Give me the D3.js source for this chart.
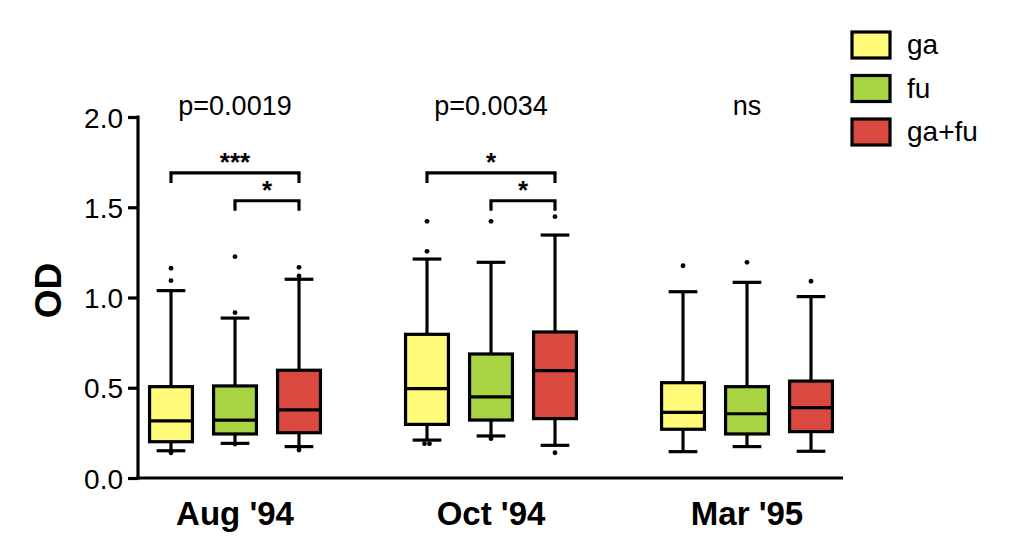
<!DOCTYPE html>
<html>
<head>
<meta charset="utf-8">
<script src="https://cdn.jsdelivr.net/npm/d3@7"></script>
<style>
  html, body { margin: 0; padding: 0; background: #fff; }
  svg { display: block; }
  text { font-family: "Liberation Sans", Arial, Helvetica, sans-serif; fill: #000; }
</style>
</head>
<body>
<svg id="chart" width="1009" height="559"></svg>
<script>
// ---------- data ----------
const groups = ["Aug '94", "Oct '94", "Mar '95"];
const series = ["ga", "fu", "ga+fu"];
const seriesColors = ["#fffa78", "#a8d444", "#d9493f"];
const yTicks = [0.0, 0.5, 1.0, 1.5, 2.0];

// box statistics: [whiskerLow, q1, median, q3, whiskerHigh], per group, per series
const boxStatsAug = [
  [0.151, 0.201, 0.316, 0.506, 1.038],
  [0.192, 0.244, 0.321, 0.510, 0.886],
  [0.174, 0.251, 0.377, 0.597, 1.101]
];
const boxStatsOct = [
  [0.210, 0.297, 0.495, 0.796, 1.213],
  [0.233, 0.321, 0.449, 0.687, 1.195],
  [0.181, 0.329, 0.595, 0.809, 1.346]
];
const boxStatsMar = [
  [0.146, 0.270, 0.364, 0.528, 1.032],
  [0.174, 0.244, 0.356, 0.506, 1.084],
  [0.148, 0.257, 0.390, 0.537, 1.005]
];
// outliers
const outliersAug = [[1.162, 1.093, 0.140], [1.226, 0.916, 0.188], [1.167, 1.119, 0.155]];
const outliersOct = [[1.422, 1.256, 0.190, 0.190], [1.422, 0.218], [1.448, 0.140]];
const outliersMar = [[1.176], [1.195], [1.090]];

const pLabels = ["p=0.0019", "p=0.0034", "ns"];
// significance brackets: group index, from series, to series, y level, label
const bracketGroup = [0, 0, 1, 1];
const bracketFrom  = [0, 1, 0, 1];
const bracketTo    = [2, 2, 2, 2];
const bracketLevel = [1.69, 1.536, 1.69, 1.536];
const bracketLabel = ["***", "*", "*", "*"];

const yLabel = "OD";

// ---------- layout ----------
const svg = d3.select("#chart");
const x0 = d3.scaleBand().domain(groups).range([139, 843]).paddingInner(0.25).paddingOuter(0);
const x1 = d3.scaleBand().domain(series).range([0, x0.bandwidth()]).paddingInner(0.33).paddingOuter(0.165);
const y = d3.scaleLinear().domain([0, 2]).range([478, 117]);
const color = d3.scaleOrdinal().domain(series).range(seriesColors);

const stats = [boxStatsAug, boxStatsOct, boxStatsMar];
const outs = [outliersAug, outliersOct, outliersMar];
const lw = 3.2;

// Y axis
const yAxis = svg.append("g").attr("transform", `translate(${x0.range()[0] - 1},0)`)
  .call(d3.axisLeft(y).tickValues(yTicks).tickFormat(d3.format(".1f")).tickSizeOuter(0).tickSize(10).tickPadding(5));
yAxis.select(".domain").attr("stroke", "#000").attr("stroke-width", lw).attr("d", `M0,${y(2)-1.5}V${y(0)+1.5}`);
yAxis.selectAll(".tick line").attr("stroke", "#000").attr("stroke-width", lw);
yAxis.selectAll(".tick text").attr("font-size", 28).attr("font-family", "Liberation Sans, Arial, sans-serif").attr("dy", "0.36em");

// X axis
const xAxis = svg.append("g").attr("transform", `translate(0,${y(0)})`)
  .call(d3.axisBottom(x0).tickSize(0).tickPadding(24));
xAxis.select(".domain").attr("stroke", "#000").attr("stroke-width", lw).attr("d", `M${x0.range()[0]-2.5},0H${x0.range()[1]}`);
xAxis.selectAll(".tick text").attr("font-size", 33).attr("font-weight", "bold").attr("font-family", "Liberation Sans, Arial, sans-serif");

// Y label
svg.append("text").attr("transform", `translate(61,${y(1) - 7}) rotate(-90)`)
  .attr("text-anchor", "middle").attr("font-size", 37).attr("font-weight", "bold").text(yLabel);

// boxes
groups.forEach((g, gi) => {
  series.forEach((s, si) => {
    const st = stats[gi][si];
    const bx = x0(g) + x1(s);
    const bw = x1.bandwidth();
    const cx = bx + bw / 2;
    const capW = bw * 0.67;
    const grp = svg.append("g");
    // whiskers
    grp.append("line").attr("x1", cx).attr("x2", cx).attr("y1", y(st[0])).attr("y2", y(st[1]))
      .attr("stroke", "#000").attr("stroke-width", lw);
    grp.append("line").attr("x1", cx).attr("x2", cx).attr("y1", y(st[3])).attr("y2", y(st[4]))
      .attr("stroke", "#000").attr("stroke-width", lw);
    grp.append("line").attr("x1", cx - capW/2).attr("x2", cx + capW/2).attr("y1", y(st[0])).attr("y2", y(st[0]))
      .attr("stroke", "#000").attr("stroke-width", lw);
    grp.append("line").attr("x1", cx - capW/2).attr("x2", cx + capW/2).attr("y1", y(st[4])).attr("y2", y(st[4]))
      .attr("stroke", "#000").attr("stroke-width", lw);
    // box
    grp.append("rect").attr("x", bx).attr("width", bw).attr("y", y(st[3])).attr("height", y(st[1]) - y(st[3]))
      .attr("fill", color(s)).attr("stroke", "#000").attr("stroke-width", lw);
    // median
    grp.append("line").attr("x1", bx).attr("x2", bx + bw).attr("y1", y(st[2])).attr("y2", y(st[2]))
      .attr("stroke", "#000").attr("stroke-width", lw);
    // outliers
    const o = outs[gi][si];
    o.forEach((v, k) => {
      const dup = o.filter(w => w === v).length;
      const idx = o.slice(0, k).filter(w => w === v).length;
      const off = dup > 1 ? (idx - (dup - 1) / 2) * 5 : 0;
      grp.append("circle").attr("cx", cx + off).attr("cy", y(v)).attr("r", 2.4).attr("fill", "#000");
    });
  });
  // p label
  svg.append("text").attr("x", x0(g) + x0.bandwidth() / 2).attr("y", y(2) - 2)
    .attr("text-anchor", "middle").attr("font-size", 27).text(pLabels[gi]);
});

// brackets
bracketGroup.forEach((gi, i) => {
  const g = groups[gi];
  const xa = x0(g) + x1(series[bracketFrom[i]]) + x1.bandwidth() / 2;
  const xb = x0(g) + x1(series[bracketTo[i]]) + x1.bandwidth() / 2;
  const yy = y(bracketLevel[i]);
  svg.append("path").attr("d", `M${xa},${yy + 10}V${yy}H${xb}V${yy + 10}`)
    .attr("fill", "none").attr("stroke", "#000").attr("stroke-width", lw);
  svg.append("text").attr("x", (xa + xb) / 2).attr("y", yy - 2)
    .attr("text-anchor", "middle").attr("font-size", 26).attr("font-weight", "bold").text(bracketLabel[i]);
});

// legend
const leg = svg.append("g").attr("transform", "translate(852,32)");
series.forEach((s, i) => {
  const row = leg.append("g").attr("transform", `translate(0,${i * 43.5})`);
  row.append("rect").attr("width", 38).attr("height", 26).attr("fill", color(s))
    .attr("stroke", "#000").attr("stroke-width", lw);
  row.append("text").attr("x", 55).attr("y", 22).attr("font-size", 28).text(s);
});
</script>
</body>
</html>
